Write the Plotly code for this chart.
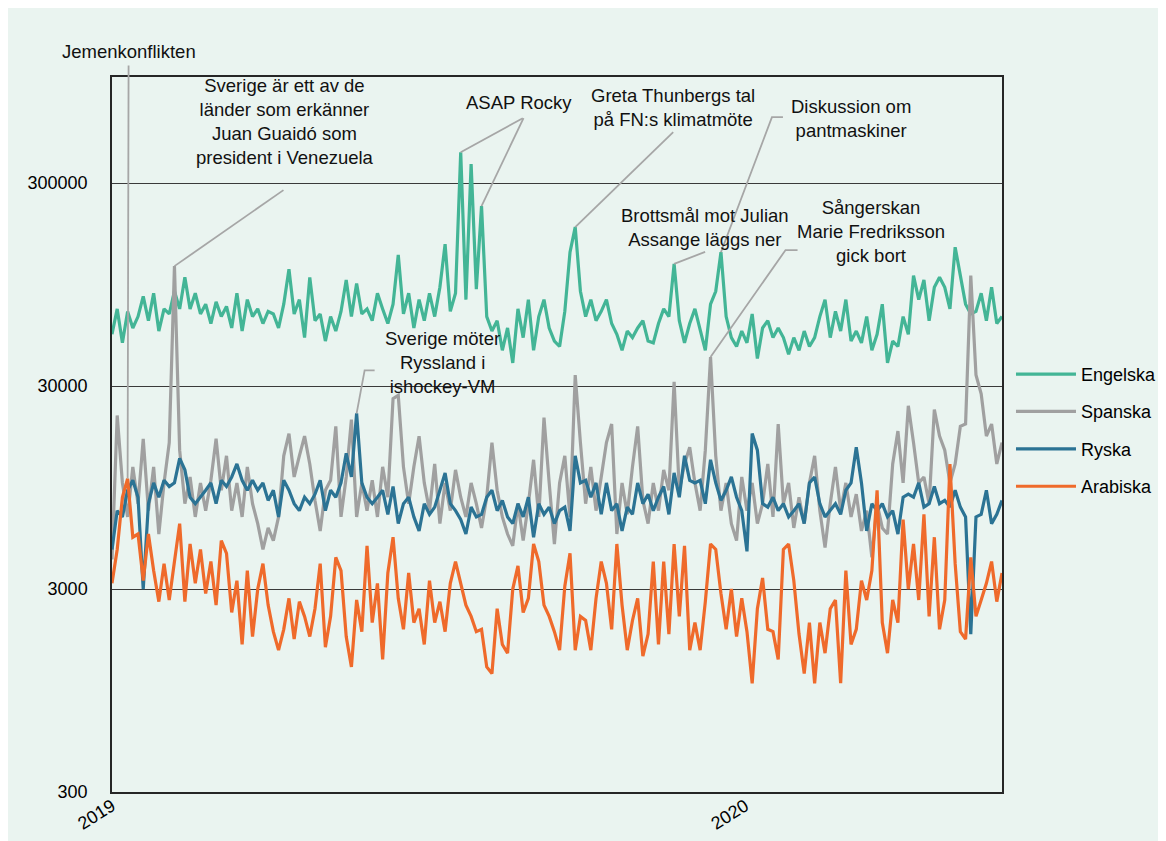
import numpy as np
import pandas as pd
import plotly.graph_objects as go

# ---------------- data (every 3rd day) ----------------
start_date = "2019-01-01"
step_days = 3

engelska = [
    54000, 72000, 49000, 70000, 58000, 66000, 83000, 63000, 86000, 56000,
    72000, 68000, 88000, 72000, 103000, 72000, 86000, 68000, 76000, 61000,
    78000, 66000, 74000, 58000, 86000, 56000, 80000, 66000, 72000, 61000,
    70000, 68000, 58000, 76000, 113000, 68000, 80000, 52000, 103000, 63000,
    68000, 50000, 66000, 56000, 70000, 100000, 66000, 96000, 68000, 72000,
    63000, 86000, 72000, 61000, 76000, 133000, 68000, 86000, 58000, 80000,
    63000, 86000, 66000, 92000, 150000, 70000, 86000, 426000, 80000, 372000,
    90000, 231000, 66000, 56000, 63000, 45000, 58000, 39000, 72000, 52000,
    80000, 45000, 66000, 80000, 58000, 50000, 47000, 70000, 137000, 182000,
    88000, 66000, 80000, 63000, 70000, 80000, 61000, 54000, 45000, 56000,
    52000, 58000, 63000, 50000, 49000, 61000, 72000, 66000, 120000, 63000,
    49000, 61000, 72000, 56000, 45000, 76000, 88000, 137000, 66000, 52000,
    47000, 56000, 49000, 68000, 41000, 58000, 63000, 52000, 58000, 52000,
    43000, 52000, 45000, 56000, 47000, 52000, 66000, 80000, 52000, 70000,
    56000, 80000, 50000, 56000, 49000, 66000, 45000, 54000, 76000, 39000,
    50000, 47000, 66000, 54000, 105000, 80000, 100000, 63000, 92000, 103000,
    92000, 72000, 145000, 105000, 76000, 68000, 70000, 86000, 63000, 92000,
    61000, 66000,
]

spanska = [
    4200, 21500, 10000, 6800, 12000, 7900, 16500, 7300, 12000, 5600,
    10000, 15800, 117000, 14500, 7900, 10700, 6800, 10000, 7300, 10300,
    16500, 9200, 13600, 7300, 10000, 6800, 12000, 7900, 6300, 4700,
    6000, 5200, 6800, 13600, 17500, 10700, 13600, 17000, 12400, 8200,
    5800, 9200, 10300, 19000, 6800, 10700, 20500, 6800, 10000, 7300,
    10300, 6800, 12000, 8500, 26000, 27000, 12000, 7900, 12000, 17000,
    10000, 7300, 12400, 6300, 10000, 7300, 11600, 8500, 6800, 10000,
    7900, 6000, 8500, 15800, 9200, 6800, 5600, 4900, 7900, 5200,
    7900, 13000, 6800, 21000, 10000, 5000, 10000, 13600, 6800, 34000,
    15800, 7900, 12000, 7300, 10700, 15800, 19500, 5600, 10000, 7000,
    12000, 19000, 8200, 6300, 10000, 7300, 11600, 9200, 31500, 9200,
    12400, 15000, 10000, 7300, 14500, 41700, 13600, 7300, 10000, 6300,
    5200, 10700, 7300, 10000, 6300, 7900, 12400, 6800, 19500, 7900,
    10000, 6000, 8500, 6300, 10000, 13600, 7300, 4800, 7900, 12000,
    7300, 10000, 6800, 8800, 5800, 7300, 4300, 7900, 6000, 5600,
    12400, 18000, 10000, 24000, 15800, 10000, 10700, 7900, 23000, 17000,
    14500, 10000, 12400, 19000, 19500, 105000, 34000, 27500, 17000, 19500,
    12400, 15800,
]

ryska = [
    4700, 7300, 6800, 9200, 10300, 8500, 3000, 7900, 10000, 8500,
    10300, 9600, 10000, 13200, 11600, 8500, 7900, 8500, 9200, 10000,
    7900, 10300, 9600, 10700, 12400, 10300, 9200, 10300, 9200, 10000,
    8200, 9200, 6800, 10300, 9200, 7900, 7300, 8500, 7900, 8800,
    10300, 7300, 9200, 8500, 10000, 14000, 10700, 22000, 10000, 8500,
    7900, 8500, 9200, 7000, 9600, 6300, 7900, 8500, 6800, 5800,
    7900, 7000, 7600, 9200, 11200, 7900, 7300, 6600, 5600, 7600,
    6800, 7000, 8500, 9200, 7300, 8200, 6800, 6300, 7900, 6800,
    8500, 5400, 7900, 7000, 7600, 6300, 7300, 7600, 5800, 13600,
    10000, 10300, 8500, 10000, 7000, 10000, 7300, 7900, 5800, 7600,
    7000, 10000, 7900, 8800, 7300, 8500, 9600, 7000, 11200, 8500,
    13600, 10300, 10000, 10300, 7900, 13000, 10000, 8200, 9200, 10700,
    8500, 7300, 4600, 17500, 14500, 7900, 7600, 8500, 7300, 7900,
    6800, 7300, 7900, 6300, 10000, 10700, 7900, 6800, 7300, 7900,
    7000, 9200, 10000, 15000, 10000, 5800, 7900, 7300, 7900, 6800,
    7300, 5600, 8500, 8800, 8500, 10000, 7600, 7900, 9600, 7900,
    8200, 7600, 9200, 7600, 6800, 1800, 6800, 7000, 9200, 6300,
    7000, 8200,
]

arabiska = [
    3200, 4700, 8500, 10500, 5400, 5600, 3300, 5600, 3700, 2600,
    4000, 2650, 4100, 6300, 2600, 5000, 3200, 4700, 2850, 4100,
    2500, 5200, 4500, 2300, 3300, 1600, 3700, 1750, 3000, 4000,
    2500, 1850, 1500, 1900, 2700, 1700, 2600, 2200, 1750, 2400,
    4000, 1550, 2200, 4300, 3700, 1750, 1240, 2650, 1850, 4900,
    2050, 3200, 1350, 3600, 5400, 2700, 1900, 3600, 2050, 2400,
    1600, 3300, 2050, 2600, 1850, 3200, 4100, 3200, 2500, 2200,
    1850, 1900, 1240, 1150, 2400, 1600, 1450, 3000, 3900, 2300,
    2700, 5000, 4100, 2500, 2200, 1850, 1500, 3100, 4500, 1500,
    2200, 2100, 1500, 2700, 4100, 3200, 1900, 5000, 2500, 1500,
    2100, 2700, 1400, 1800, 4100, 1600, 4100, 1800, 5000, 2200,
    4900, 1500, 2050, 1500, 2600, 5000, 4700, 2850, 1900, 3000,
    1750, 2700, 1850, 1030, 2400, 3400, 1900, 1850, 1350, 4700,
    5000, 3300, 1800, 1150, 2050, 1030, 2050, 1450, 2400, 2650,
    1030, 3700, 1600, 1900, 3300, 2650, 3700, 9200, 2050, 1450,
    2650, 2050, 6600, 3000, 5000, 2650, 7000, 2200, 5400, 1900,
    2650, 12400, 4000, 1850, 1700, 4300, 2200, 2650, 3200, 4100,
    2600, 3600,
]

series_names = ["Engelska", "Spanska", "Ryska", "Arabiska"]
y_tick_values = [300, 3000, 30000, 300000]
x_tick_dates = ["2019-01-01", "2020-01-01"]
x_tick_labels = ["2019", "2020"]

# events: which series/point they point at (index in the arrays above)
event_texts = [
    "Sverige är ett av de<br>länder som erkänner<br>Juan Guaidó som<br>president i Venezuela",
    "ASAP Rocky",
    "Greta Thunbergs tal<br>på FN:s klimatmöte",
    "Brottsmål mot Julian<br>Assange läggs ner",
    "Diskussion om<br>pantmaskiner",
    "Sångerskan<br>Marie Fredriksson<br>gick bort",
    "Sverige möter<br>Ryssland i<br>ishockey-VM",
]
event_series = ["Spanska", "Engelska", "Engelska", "Engelska", "Engelska", "Spanska", "Ryska"]
event_index = [12, 67, 89, 108, 117, 115, 47]
yemen_text = "Jemenkonflikten"
yemen_series, yemen_index = "Arabiska", 3
asap_second_index = 71

# ---------------- styling ----------------
BG = "#EAF4F0"
colors = {"Engelska": "#43B596", "Spanska": "#A0A0A0", "Ryska": "#2B7394", "Arabiska": "#EF6A2B"}
FONT = "Liberation Sans, Arial, sans-serif"
LEADER = "#A6A6A6"
ANN_SIZE = 18.5

# connector paths (pixel offsets from the point, y up) and label offsets (pixels)
event_paths = [
    [(0, 0), (109, 76)],
    [(0, 0), (62, 34)],
    [(0, 0), (98, 95)],
    [(0, 0), (31, 12)],
    [(0, 0), (51, 135), (62, 135)],
    [(0, 0), (75, 107), (87, 107)],
    [(0, 0), (8, 43), (18, 43)],
]
event_label_shift = [(111, 145), (58, 50), (98, 120), (31, 36), (130, 134), (160, 126), (86, 51)]

data = {"Engelska": engelska, "Spanska": spanska, "Ryska": ryska, "Arabiska": arabiska}
dates = pd.date_range(start_date, periods=len(engelska), freq=f"{step_days}D")

fig = go.Figure()
for name in series_names:
    fig.add_trace(go.Scatter(
        x=dates, y=data[name], name=name, mode="lines", legendgroup=name,
        line=dict(color=colors[name], width=3.2),
    ))


def add_leader(date, value, pts):
    path = "M" + " L".join(f"{px},{py}" for px, py in pts)
    fig.add_shape(type="path", path=path, xref="x", yref="y",
                  xsizemode="pixel", ysizemode="pixel",
                  xanchor=date.strftime("%Y-%m-%d"), yanchor=value,
                  line=dict(color=LEADER, width=1.8))


for text, ser, idx, pts, (sx, sy) in zip(event_texts, event_series, event_index, event_paths, event_label_shift):
    d = dates[idx]
    v = data[ser][idx]
    add_leader(d, v, pts)
    fig.add_annotation(x=d.strftime("%Y-%m-%d"), y=np.log10(v), xref="x", yref="y",
                       text=text, showarrow=False, xshift=sx, yshift=sy,
                       xanchor="center", yanchor="middle", align="center",
                       font=dict(family=FONT, size=ANN_SIZE, color="#111111"))

# second ASAP Rocky leader (third spike)
add_leader(dates[asap_second_index], engelska[asap_second_index], [(0, 0), (42, 88)])

# Jemenkonflikten: long leader reaching above the plot area (annotation arrow, not clipped)
yd = dates[yemen_index]
yv = data[yemen_series][yemen_index]
fig.add_annotation(x=yd.strftime("%Y-%m-%d"), y=np.log10(yv), xref="x", yref="y",
                   text=yemen_text, showarrow=True, arrowhead=0, arrowwidth=1.8,
                   arrowcolor=LEADER, ax=1, ay=-427, standoff=0, startstandoff=2,
                   font=dict(family=FONT, size=ANN_SIZE, color="#111111"))

fig.update_layout(
    width=1166, height=841,
    margin=dict(l=104, r=172, t=69, b=57, autoexpand=False),
    paper_bgcolor=BG, plot_bgcolor=BG,
    font=dict(family=FONT, size=18, color="#000000"),
    showlegend=True,
    legend=dict(x=1.0101, y=0.61, xanchor="left", yanchor="top",
                tracegroupgap=11, bgcolor="rgba(0,0,0,0)", itemwidth=60,
                font=dict(family=FONT, size=18, color="#000000")),
)
fig.update_xaxes(
    type="date", range=[dates[0].strftime("%Y-%m-%d"), dates[-1].strftime("%Y-%m-%d")],
    tickvals=x_tick_dates, ticktext=x_tick_labels, tickangle=-32,
    showgrid=False, zeroline=False, showline=True, mirror=True, automargin=False,
    linecolor="#262626", linewidth=1.5, ticks="", ticklabelstandoff=-5,
    tickfont=dict(family=FONT, size=18, color="#000000"),
)
fig.update_yaxes(
    type="log", range=[np.log10(300), 6],
    tickvals=y_tick_values, ticktext=[str(v) for v in y_tick_values],
    showgrid=True, gridcolor="#3A3A3A", gridwidth=1, zeroline=False, automargin=False,
    showline=True, mirror=True, linecolor="#262626", linewidth=1.5,
    ticks="outside", ticklen=19, tickcolor="rgba(0,0,0,0)",
    tickfont=dict(family=FONT, size=18, color="#000000"),
)

fig.write_html("out.html")
